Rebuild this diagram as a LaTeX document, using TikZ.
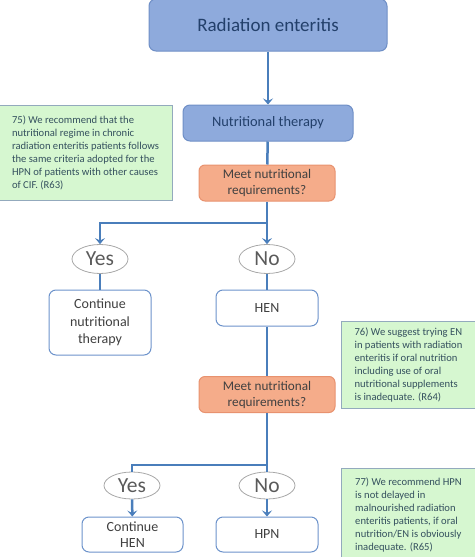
\documentclass[tikz,border=0pt]{standalone}
\usepackage{fontspec}
\setmainfont{Carlito}
\usepackage{xcolor}
\usepackage{tikz}
\usetikzlibrary{shapes.geometric}
\usetikzlibrary{arrows.meta}

\definecolor{boxblue}{HTML}{8EAADC}
\definecolor{boxblueline}{HTML}{6F8FC6}
\definecolor{bluetext}{HTML}{23406B}
\definecolor{askfill}{HTML}{F5AC8A}
\definecolor{askline}{HTML}{E8926F}
\definecolor{darktext}{HTML}{404040}
\definecolor{answerline}{HTML}{A8A8A8}
\definecolor{answertext}{HTML}{5A5A5A}
\definecolor{outline}{HTML}{6D93CB}
\definecolor{notefill}{HTML}{D6F7D0}
\definecolor{noteline}{HTML}{93AABD}
\definecolor{notetext}{HTML}{34505E}
\definecolor{flowblue}{HTML}{4A7EBB}

\tikzset{
	mainbox/.style={draw=boxblueline, fill=boxblue, rounded corners=7pt, line width=1pt, text=bluetext, align=center},
	askbox/.style={draw=askline, fill=askfill, rounded corners=6pt, line width=1pt, text=darktext, align=center,
		minimum width=136, minimum height=36, font=\fontsize{13.2}{16}\selectfont},
	answer/.style={ellipse, draw=answerline, fill=white, line width=0.8pt, text=answertext, inner sep=0pt,
		minimum width=56, font=\fontsize{21.5}{21.5}\selectfont},
	outcome/.style={draw=outline, fill=white, rounded corners=7pt, line width=1pt, text=darktext, align=center,
		minimum width=102, font=\fontsize{14}{17.5}\selectfont},
	note/.style={draw=noteline, fill=notefill, line width=1pt, text=notetext, align=left,
		font=\fontsize{10.6}{13}\selectfont},
	flow/.style={draw=flowblue, line width=2.5pt},
	flowarrow/.style={flow, -{Stealth[length=6pt, width=10pt, inset=2.5pt]}},
}

\begin{document}
\begin{tikzpicture}[x=1pt, y=-1pt]
	\useasboundingbox (0, 0) rectangle (474, 557);

	% main column
	\node[mainbox, minimum width=238, minimum height=52, font=\fontsize{19}{22}\selectfont] (rad) at (268, 25) {Radiation enteritis};
	\node[mainbox, minimum width=170, minimum height=36, font=\fontsize{14.4}{17}\selectfont] (nt) at (268, 123) {Nutritional therapy};
	\node[askbox] (meet1) at (267, 183) {Meet nutritional\\requirements?};

	\node[answer, minimum height=29] (yes1) at (100, 259) {Yes};
	\node[answer, minimum height=29] (no1) at (267, 259) {No};
	\node[outcome, minimum height=65] (cont1) at (100, 322.5) {Continue\\nutritional\\therapy};
	\node[outcome, minimum height=36] (hen) at (267, 308) {HEN};

	\node[askbox] (meet2) at (267, 394.5) {Meet nutritional\\requirements?};

	\node[answer, minimum height=27] (yes2) at (132, 485.5) {Yes};
	\node[answer, minimum height=27] (no2) at (267, 485.5) {No};
	\node[outcome, minimum height=35, minimum width=101, font=\fontsize{14}{16.5}\selectfont] (conthen) at (132.5, 534.5) {Continue\\HEN};
	\node[outcome, minimum height=35] (hpn) at (267, 534.5) {HPN};

	\coordinate (j1) at (267, 223);
	\coordinate (j2) at (267, 465);

	% recommendations
	\node[note, minimum width=173, minimum height=95] (r75) at (85.5, 152.5) {75) We recommend that the\\nutritional regime in chronic\\radiation enteritis patients follows\\the same criteria adopted for the\\HPN of patients with other causes\\of CIF. (R63)};
	\node[note, minimum width=135, minimum height=87] (r76) at (408.5, 364.5) {76) We suggest trying EN\\in patients with radiation\\enteritis if oral nutrition\\including use of oral\\nutritional supplements\\is inadequate. (R64)};
	\node[note, minimum width=135, minimum height=94] (r77) at (408.5, 515) {77) We recommend HPN\\is not delayed in\\malnourished radiation\\enteritis patients, if oral\\nutrition/EN is obviously\\inadequate. (R65)};

	% connectors
	\draw[flowarrow] (rad) -- (nt);
	\draw[flow] (nt) -- (meet1);
	\draw[flowarrow] (meet1.south) -- (j1) -| (yes1.north);
	\draw[flowarrow] (j1) -- (no1.north);
	\draw[flow] (yes1) -- (cont1);
	\draw[flow] (no1) -- (hen);
	\draw[flow] (hen) -- (meet2);
	\draw[flow] (meet2.south) -- (j2) -| (yes2.north);
	\draw[flow] (j2) -- (no2.north);
	\draw[flowarrow] (yes2) -- (conthen);
	\draw[flowarrow] (no2) -- (hpn);

\end{tikzpicture}
\end{document}
